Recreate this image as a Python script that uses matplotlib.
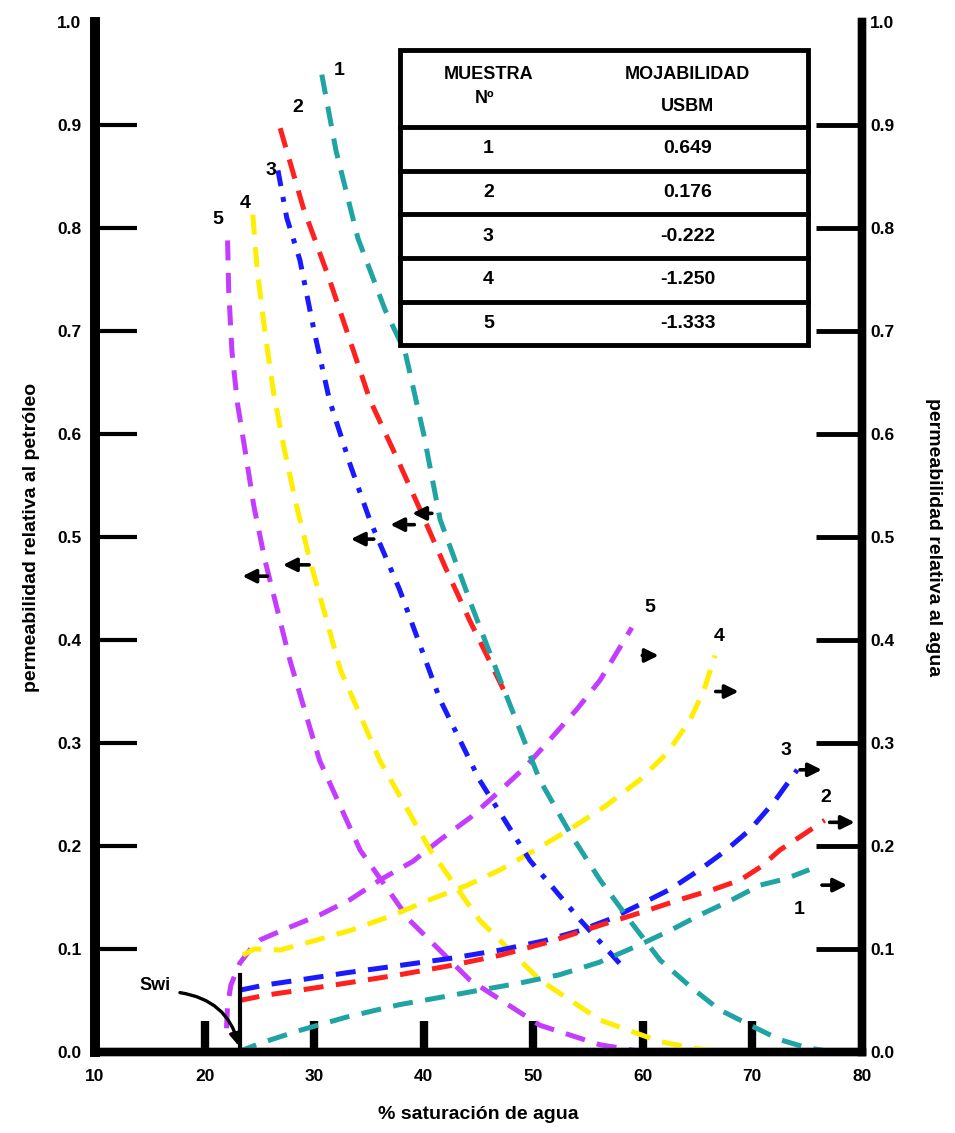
import matplotlib
matplotlib.use('Agg')
from matplotlib import pyplot as plt
from matplotlib.patches import Rectangle

plt.rcParams['font.family'] = ['Liberation Sans', 'DejaVu Sans']
plt.rcParams['font.weight'] = 'bold'

COLORS = ['#1fa3a3', '#ff2020', '#1a1aff', '#ffee00', '#c43cff']

# permeabilidad relativa al petroleo (kro)
KRO_SW = [
    [30.7, 32.0, 34.0, 36.5, 38.3, 40.0, 41.5, 44.5, 47.4, 50.6, 53.5, 56.1, 59.0, 61.6, 64.5, 67.0, 70.0, 72.5, 75.0, 77.5],
    [26.9, 29.0, 31.4, 33.3, 35.1, 37.5, 39.7, 42.0, 44.2, 46.0, 47.6],
    [26.7, 27.5, 28.7, 30.0, 31.4, 33.3, 35.1, 37.8, 41.5, 45.1, 49.7, 54.3, 58.4],
    [24.4, 24.8, 25.5, 26.3, 27.3, 28.4, 29.6, 32.4, 36.0, 40.6, 45.1, 50.6, 56.1, 61.6, 65.0, 67.7],
    [22.1, 22.2, 22.5, 23.0, 23.7, 24.5, 25.5, 27.8, 30.5, 34.2, 38.7, 44.2, 50.6, 56.1, 60.2],
]
KRO = [
    [0.949, 0.875, 0.79, 0.72, 0.68, 0.60, 0.517, 0.43, 0.35, 0.264, 0.21, 0.167, 0.125, 0.089, 0.062, 0.041, 0.025, 0.012, 0.004, 0.0],
    [0.897, 0.82, 0.75, 0.69, 0.633, 0.578, 0.526, 0.47, 0.419, 0.38, 0.345],
    [0.856, 0.81, 0.769, 0.70, 0.633, 0.57, 0.516, 0.449, 0.342, 0.264, 0.186, 0.128, 0.08],
    [0.813, 0.76, 0.70, 0.64, 0.584, 0.53, 0.478, 0.371, 0.283, 0.196, 0.128, 0.07, 0.031, 0.01, 0.003, 0.0],
    [0.788, 0.74, 0.68, 0.63, 0.584, 0.53, 0.478, 0.38, 0.283, 0.196, 0.128, 0.07, 0.026, 0.007, 0.0],
]

# permeabilidad relativa al agua (krw)
KRW_SW = [
    [23.0, 25.5, 28.7, 33.0, 37.8, 41.5, 45.1, 48.8, 52.4, 56.0, 59.7, 62.5, 65.2, 68.0, 70.7, 73.0, 75.2],
    [23.2, 25.5, 28.7, 33.0, 37.8, 42.5, 47.0, 51.5, 56.1, 60.0, 63.4, 66.5, 68.9, 70.8, 72.5, 74.5, 76.6],
    [23.2, 25.5, 28.7, 33.0, 37.8, 42.5, 47.0, 51.0, 54.3, 57.0, 59.7, 62.5, 65.2, 67.5, 69.8, 72.0, 74.1],
    [23.5, 24.5, 26.9, 30.0, 33.3, 37.0, 40.6, 44.0, 47.0, 50.0, 53.3, 56.5, 59.7, 62.2, 64.3, 65.6, 66.6],
    [22.0, 22.1, 22.4, 23.2, 24.2, 25.1, 27.5, 30.5, 33.3, 36.0, 39.0, 41.5, 44.3, 47.0, 49.3, 51.5, 54.0, 56.1, 59.0],
]
KRW = [
    [0.0, 0.01, 0.021, 0.034, 0.046, 0.053, 0.06, 0.067, 0.075, 0.087, 0.104, 0.118, 0.133, 0.147, 0.162, 0.168, 0.177],
    [0.05, 0.055, 0.06, 0.067, 0.075, 0.084, 0.094, 0.107, 0.123, 0.136, 0.148, 0.158, 0.167, 0.18, 0.196, 0.21, 0.225],
    [0.06, 0.065, 0.07, 0.077, 0.084, 0.091, 0.099, 0.108, 0.118, 0.129, 0.143, 0.158, 0.177, 0.195, 0.216, 0.243, 0.274],
    [0.094, 0.10, 0.099, 0.108, 0.118, 0.132, 0.148, 0.162, 0.177, 0.195, 0.216, 0.238, 0.264, 0.29, 0.322, 0.352, 0.385],
    [0.023, 0.045, 0.065, 0.086, 0.1, 0.109, 0.12, 0.133, 0.148, 0.167, 0.185, 0.206, 0.228, 0.254, 0.277, 0.303, 0.333, 0.361, 0.412],
]

KRO_LABEL_POS = [(32.3, 0.953), (28.5, 0.917), (26.1, 0.856), (23.7, 0.824), (21.2, 0.808)]
KRW_LABEL_POS = [(74.3, 0.138), (76.7, 0.247), (73.1, 0.293), (67.0, 0.403), (60.6, 0.432)]

# flechas: (x inicio, x fin, y)
LEFT_ARROWS = [(41.0, 38.7, 0.523), (39.4, 36.7, 0.512), (35.7, 33.1, 0.498), (29.8, 26.9, 0.473), (26.0, 23.2, 0.462)]
RIGHT_ARROWS = [(76.1, 78.9, 0.162), (76.8, 79.6, 0.223), (74.1, 76.6, 0.274), (66.4, 69.0, 0.35), (59.7, 61.7, 0.385)]

SWI = 23.2
MUESTRAS = ['1', '2', '3', '4', '5']
MOJABILIDAD = ['0.649', '0.176', '-0.222', '-1.250', '-1.333']

fig = plt.figure(figsize=(9.55, 11.33), dpi=100)
ax = fig.add_axes([0.0995, 0.0715, 0.803, 0.909])
ax.set_xlim(10, 80)
ax.set_ylim(0, 1.0)

for i in range(5):
    style = (0, (3.2, 2.2, 1.0, 2.2)) if i == 2 else (0, (4, 2.5))
    ax.plot(KRO_SW[i], KRO[i], color=COLORS[i], lw=3.6, linestyle=style, zorder=3 - i * 0.1)
    ax.plot(KRW_SW[i], KRW[i], color=COLORS[i], lw=3.6, linestyle=(0, (4, 2.5)), zorder=3 - i * 0.1)
    ax.text(*KRO_LABEL_POS[i], MUESTRAS[i], fontsize=14, fontweight='bold', ha='center', va='center')
    ax.text(*KRW_LABEL_POS[i], MUESTRAS[i], fontsize=14, fontweight='bold', ha='center', va='center')

for x0, x1, y in LEFT_ARROWS + RIGHT_ARROWS:
    ax.annotate('', xy=(x1, y), xytext=(x0, y),
                arrowprops=dict(arrowstyle='-|>', color='black', lw=2.6, mutation_scale=20))

# Swi
ax.plot([SWI, SWI], [0, 0.075], color='black', lw=3, zorder=4)
ax.text(15.5, 0.065, 'Swi', fontsize=13, fontweight='bold', ha='center', va='center')
ax.annotate('', xy=(SWI, 0.003), xytext=(17.5, 0.058),
            arrowprops=dict(arrowstyle='-|>', color='black', lw=2.4, mutation_scale=18,
                            connectionstyle='arc3,rad=-0.35'))

# tabla (coordenadas de ejes)
t_left, t_right, t_top, t_bottom = 0.398, 0.930, 0.973, 0.686
head_h = 0.075
row_h = (t_top - head_h - t_bottom) / len(MUESTRAS)
col1_x, col2_x = 0.513, 0.773
ax.add_patch(Rectangle((t_left, t_bottom), t_right - t_left, t_top - t_bottom, transform=ax.transAxes,
                       facecolor='white', edgecolor='black', lw=3.5, zorder=5))
ax.text(col1_x, t_top - 0.024, 'MUESTRA', transform=ax.transAxes, ha='center', va='center',
        fontsize=13, fontweight='bold', zorder=6)
ax.text(col1_x - 0.005, t_top - 0.047, 'Nº', transform=ax.transAxes, ha='center', va='center',
        fontsize=13, fontweight='bold', zorder=6)
ax.text(col2_x, t_top - 0.024, 'MOJABILIDAD', transform=ax.transAxes, ha='center', va='center',
        fontsize=13, fontweight='bold', zorder=6)
ax.text(col2_x, t_top - 0.055, 'USBM', transform=ax.transAxes, ha='center', va='center',
        fontsize=13, fontweight='bold', zorder=6)
for k, (m, w) in enumerate(zip(MUESTRAS, MOJABILIDAD)):
    y_top = t_top - head_h - k * row_h
    ax.plot([t_left, t_right], [y_top, y_top], transform=ax.transAxes, color='black', lw=3.5, zorder=6)
    yc = y_top - row_h / 2
    ax.text(col1_x, yc, m, transform=ax.transAxes, ha='center', va='center', fontsize=14,
            fontweight='bold', zorder=6)
    ax.text(col2_x, yc, w, transform=ax.transAxes, ha='center', va='center', fontsize=14,
            fontweight='bold', zorder=6)

ax2 = ax.twinx()
ax2.set_ylim(0, 1.0)

yticks = [i / 10 for i in range(11)]
ylabels = ['%.1f' % t for t in yticks]
for a in (ax, ax2):
    a.set_yticks(yticks)
    a.set_yticklabels(ylabels, fontsize=12.5, fontweight='bold')
    a.spines['top'].set_visible(False)
    a.spines['left'].set_linewidth(7)
    a.spines['right'].set_linewidth(6)
    a.spines['bottom'].set_linewidth(6)
ax.tick_params(axis='y', direction='in', length=30, width=3, pad=10)
ax2.tick_params(axis='y', direction='in', length=33, width=3.5, pad=6)
for a in (ax, ax2):
    ticks = a.yaxis.get_major_ticks()
    for t in (ticks[0], ticks[-1]):
        t.tick1line.set_visible(False)
        t.tick2line.set_visible(False)

xticks = list(range(10, 90, 10))
ax.set_xticks(xticks)
ax.set_xticklabels([str(t) for t in xticks], fontsize=12.5, fontweight='bold')
ax.tick_params(axis='x', direction='in', length=22, width=6, pad=12)
xt = ax.xaxis.get_major_ticks()
for t in (xt[0], xt[-1]):
    t.tick1line.set_visible(False)

ax.set_xlabel('% saturación de agua', fontsize=14, fontweight='bold', labelpad=16)
ax.set_ylabel('permeabilidad relativa al petróleo', fontsize=14, fontweight='bold', labelpad=12)
ax2.set_ylabel('permeabilidad relativa al agua', fontsize=14, fontweight='bold', rotation=270, labelpad=34)

fig.savefig('out.png', dpi=100)
